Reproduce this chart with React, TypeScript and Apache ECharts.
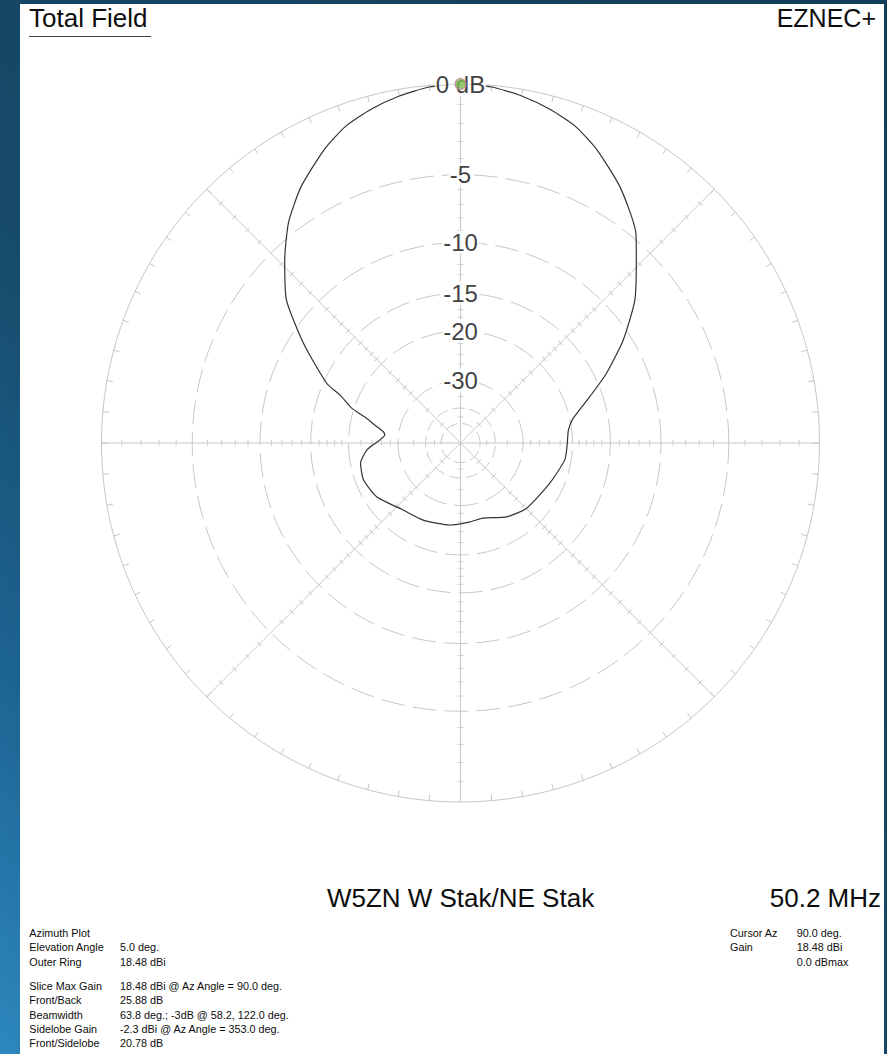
import React, { useEffect, useRef } from "react";
import * as echarts from "echarts";

// ---- data ----
// Ring levels (dB below max) of the ARRL log scale
const ringDb = [-5, -10, -15, -20, -30, -40, -50];
const ringLabelDb = [-5, -10, -15, -20, -30];
const ringLabels = ["-5", "-10", "-15", "-20", "-30"];
// Minor ticks (dB) along the radial lines
const tickDb = [-1, -2, -3, -4, -6, -7, -8, -9, -11, -12, -13, -14, -16, -17, -18, -19, -22, -24, -26, -28, -35, -45];
const radialAngles = [0, 45, 90, 135, 180, 225, 270, 315];

// Pattern: azimuth (deg, CCW from east) and relative field (dB)
const patternAz = [0, 6.9, 12.3, 19.7, 25.5, 32.3, 39.3, 46, 50, 58, 65, 70, 75, 80, 85, 90, 95, 100, 105, 110, 115, 122, 128, 134, 140.6, 147.6, 156, 158.3, 162.3, 164.8, 168.1, 171.7, 174, 177.9, 184.3, 191.5, 200.8, 212.6, 229.5, 244.2, 262.7, 276.9, 286.8, 302.1, 315.4, 335.8, 350.8, 360];
const patternDb = [-20.8, -20.5, -19.5, -16.5, -13.7, -10.7, -8.0, -6.0, -4.7, -3.0, -1.8, -1.1, -0.66, -0.32, -0.08, 0, -0.08, -0.32, -0.66, -1.1, -1.8, -3.0, -4.3, -6.0, -8.0, -11.3, -15.4, -17.5, -19.7, -22.1, -24.2, -26.2, -26.6, -25.6, -23.0, -21.6, -21.3, -22.0, -24.1, -24.6, -25.2, -25.9, -26.1, -24.3, -23.2, -22.3, -21.0, -20.8];

const cursorAz = 90;
const cursorDb = 0;

const titleLeft = "Total Field";
const titleRight = "EZNEC+";
const antennaName = "W5ZN W Stak/NE Stak";
const frequency = "50.2 MHz";

const infoLabels1 = ["Azimuth Plot", "Elevation Angle", "Outer Ring"];
const infoValues1 = ["", "5.0 deg.", "18.48 dBi"];
const infoLabels2 = ["Slice Max Gain", "Front/Back", "Beamwidth", "Sidelobe Gain", "Front/Sidelobe"];
const infoValues2 = [
  "18.48 dBi @ Az Angle = 90.0 deg.",
  "25.88 dB",
  "63.8 deg.; -3dB @ 58.2, 122.0 deg.",
  "-2.3 dBi @ Az Angle = 353.0 deg.",
  "20.78 dB",
];
const cursorLabels = ["Cursor Az", "Gain", ""];
const cursorValues = ["90.0 deg.", "18.48 dBi", "0.0 dBmax"];

// ARRL log scale: radius fraction for a dB level
const rFrac = (db: number) => Math.pow(0.89, -db / 2);

export default function App() {
  const ref = useRef<HTMLDivElement>(null);

  useEffect(() => {
    if (!ref.current) return;
    const chart = echarts.init(ref.current, null, { renderer: "svg" });
    const font = "'Liberation Sans', Arial, Helvetica, sans-serif";
    const grid = "#c6c6c6";
    const ink = "#0d0d0d";

    const ringSeries = ringDb.map((db) => {
      const data: number[][] = [];
      for (let a = 0; a <= 360; a += 2) data.push([rFrac(db), a]);
      return {
        type: "line",
        coordinateSystem: "polar",
        data,
        symbol: "none",
        silent: true,
        z: 1,
        lineStyle: { color: grid, width: 1, type: db <= -40 ? [12, 5] : [24, 8] },
      };
    });

    const tickData: any[] = [];
    radialAngles.forEach((a) => {
      tickDb.forEach((db) => {
        tickData.push({ value: [rFrac(db), a], symbolRotate: a });
      });
    });

    const textEl = (text: string, x: number, y: number, size: number, align: string) => ({
      type: "text",
      x,
      y,
      silent: true,
      style: {
        text,
        fill: ink,
        fontSize: size,
        fontFamily: font,
        align,
        verticalAlign: "middle",
      },
    });

    const graphics: any[] = [
      textEl(titleLeft, 29, 17.8, 26, "left"),
      { type: "line", silent: true, shape: { x1: 29, y1: 36.5, x2: 151, y2: 36.5 }, style: { stroke: "#444", lineWidth: 1 } },
      textEl(titleRight, 876, 17.8, 25, "right"),
      textEl(antennaName, 460.5, 897.5, 26, "center"),
      textEl(frequency, 881, 897.5, 26, "right"),
    ];
    const y1 = [933, 947.3, 961.6];
    infoLabels1.forEach((t, i) => {
      graphics.push(textEl(t, 29.3, y1[i], 10.8, "left"));
      if (infoValues1[i]) graphics.push(textEl(infoValues1[i], 120, y1[i], 10.8, "left"));
    });
    const y2 = [986, 1000.3, 1014.5, 1028.7, 1042.9];
    infoLabels2.forEach((t, i) => {
      graphics.push(textEl(t, 29.3, y2[i], 10.8, "left"));
      graphics.push(textEl(infoValues2[i], 120, y2[i], 10.8, "left"));
    });
    cursorLabels.forEach((t, i) => {
      if (t) graphics.push(textEl(t, 730, y1[i], 10.8, "left"));
      graphics.push(textEl(cursorValues[i], 796.7, y1[i], 10.8, "left"));
    });

    const option: any = {
      animation: false,
      backgroundColor: "transparent",
      polar: { center: [460.5, 443], radius: 359 },
      angleAxis: {
        type: "value",
        min: 0,
        max: 360,
        interval: 45,
        startAngle: 0,
        clockwise: false,
        axisLine: { show: true, lineStyle: { color: grid, width: 1 } },
        axisTick: { show: true, inside: true, length: 6, lineStyle: { color: grid, width: 1 } },
        minorTick: { show: true, splitNumber: 9, length: 6, lineStyle: { color: grid, width: 1 } },
        axisLabel: { show: false },
        splitLine: { show: true, lineStyle: { color: grid, width: 1 } },
        minorSplitLine: { show: false },
      },
      radiusAxis: {
        type: "value",
        min: 0,
        max: 1,
        axisLine: { show: false },
        axisTick: { show: false },
        axisLabel: { show: false },
        splitLine: { show: false },
      },
      graphic: graphics,
      series: [
        ...ringSeries,
        {
          type: "scatter",
          coordinateSystem: "polar",
          silent: true,
          z: 1,
          symbol: "rect",
          symbolSize: [1, 6],
          itemStyle: { color: grid },
          data: tickData,
        },
        {
          type: "line",
          coordinateSystem: "polar",
          silent: true,
          z: 2,
          symbol: "none",
          smooth: 0.2,
          lineStyle: { color: "#333333", width: 1.2 },
          data: patternAz.map((a, i) => [rFrac(patternDb[i]), a]),
        },
        {
          type: "scatter",
          coordinateSystem: "polar",
          silent: true,
          z: 3,
          symbolSize: 1,
          itemStyle: { color: "rgba(0,0,0,0)" },
          label: {
            show: true,
            position: "inside",
            color: ink,
            fontSize: 24,
            fontFamily: font,
            backgroundColor: "#ffffff",
            padding: [0, 1],
            formatter: (p: any) => p.name,
          },
          data: [
            { name: "0 dB", value: [rFrac(0), 90] },
            ...ringLabelDb.map((db, i) => ({ name: ringLabels[i], value: [rFrac(db), 90] })),
          ],
        },
        {
          type: "scatter",
          coordinateSystem: "polar",
          silent: true,
          z: 4,
          symbol: "circle",
          symbolSize: 11,
          itemStyle: { color: "#7dba4f", borderColor: "#cc88a8", borderWidth: 1.2 },
          data: [[rFrac(cursorDb), cursorAz]],
        },
      ],
    };
    chart.setOption(option);
    return () => chart.dispose();
  }, []);

  return (
    <div
      style={{
        position: "absolute",
        left: 0,
        top: 0,
        width: 887,
        height: 1054,
        overflow: "hidden",
        background: "linear-gradient(to bottom left, #123d58 0%, #164a68 60%, #1d6493 82%, #2d88be 100%)",
      }}
    >
      <div style={{ position: "absolute", left: 20, top: 4, width: 864, height: 1050, background: "#ffffff" }} />
      <div ref={ref} style={{ position: "absolute", left: 0, top: 0, width: 887, height: 1054 }} />
    </div>
  );
}
